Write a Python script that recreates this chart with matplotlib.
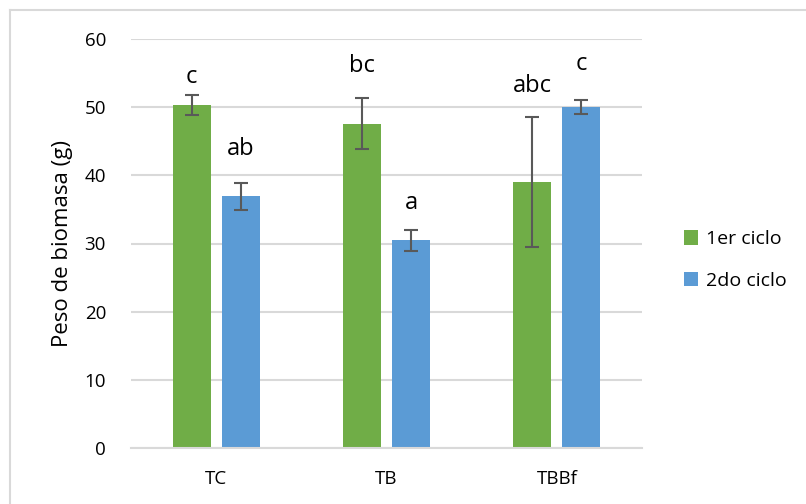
import matplotlib
matplotlib.use("Agg")
import matplotlib.pyplot as plt
from matplotlib.lines import Line2D
from matplotlib.patches import Patch
import numpy as np

plt.rcParams['font.family'] = ['Open Sans', 'DejaVu Sans']

categories = ["TC", "TB", "TBBf"]
series_names = ["1er ciclo", "2do ciclo"]
ciclo1 = [50.3, 47.6, 39.0]
ciclo1_err = [1.5, 3.8, 9.5]
ciclo2 = [36.9, 30.5, 50.0]
ciclo2_err = [2.0, 1.55, 1.0]
letters1 = ["c", "bc", "abc"]
letters2 = ["ab", "a", "c"]
letters1_y = [54.4, 56.0, 53.1]
letters2_y = [43.9, 36.0, 56.4]
yticks = [0, 10, 20, 30, 40, 50, 60]

green = "#70ad47"
blue = "#5b9bd5"
errc = "#595959"

fig = plt.figure(figsize=(8.06, 5.04), dpi=100)
W, H = 806, 504
ax = fig.add_axes([131 / W, 1 - 448 / H, (642 - 131) / W, (448 - 39) / H])

x = np.arange(len(categories))
bw = 0.222
off = 0.144
ax.bar(x - off, ciclo1, bw, color=green, zorder=2)
ax.bar(x + off, ciclo2, bw, color=blue, zorder=2)
ax.errorbar(x - off, ciclo1, yerr=ciclo1_err, fmt='none', ecolor=errc,
            elinewidth=1.5, capsize=5, capthick=1.5, zorder=3)
ax.errorbar(x + off, ciclo2, yerr=ciclo2_err, fmt='none', ecolor=errc,
            elinewidth=1.5, capsize=5, capthick=1.5, zorder=3)

for i in range(len(categories)):
    ax.text(x[i] - off, letters1_y[i], letters1[i], ha='center', va='center', fontsize=17, color='black')
    ax.text(x[i] + off, letters2_y[i], letters2[i], ha='center', va='center', fontsize=17, color='black')

ax.set_xlim(-0.5, 2.5)
ax.set_ylim(0, 60)
ax.set_yticks(yticks)
ax.set_xticks(x)
ax.set_xticklabels(categories)
ax.yaxis.grid(True, color="#d9d9d9", linewidth=1.5, zorder=0)
ax.set_axisbelow(True)
for s in ["top", "right", "left"]:
    ax.spines[s].set_visible(False)
ax.spines["bottom"].set_color("#d9d9d9")
ax.spines["bottom"].set_linewidth(1.5)
ax.tick_params(axis='both', length=0, labelsize=13.5, colors='black')
ax.tick_params(axis='y', pad=18)
ax.tick_params(axis='x', pad=16)
ax.set_ylabel("Peso de biomasa (g)", fontsize=16, labelpad=8)

handles = [Patch(facecolor=green, label=series_names[0]),
           Patch(facecolor=blue, label=series_names[1])]
fig.legend(handles=handles, loc='center left', bbox_to_anchor=(666 / W, 1 - 260 / H),
           frameon=False, fontsize=14, handlelength=0.75, handleheight=0.75,
           handletextpad=0.4, labelspacing=1.2)

# outer chart border (left and top visible)
fig.add_artist(Line2D([10 / W, 10 / W], [0, 1 - 10 / H], transform=fig.transFigure,
                      color="#d9d9d9", linewidth=1.5))
fig.add_artist(Line2D([10 / W, 1], [1 - 10 / H, 1 - 10 / H], transform=fig.transFigure,
                      color="#d9d9d9", linewidth=1.5))

fig.savefig("out.png", dpi=100)
